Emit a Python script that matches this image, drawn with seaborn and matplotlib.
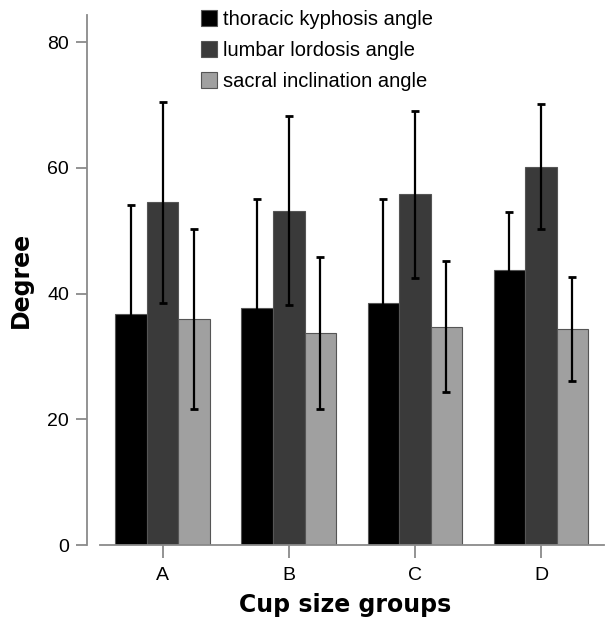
"""
Angulos da coluna por grupo de tamanho de taça (media e desvio padrao).
"""
import pandas as pd
import seaborn as sns
import matplotlib
matplotlib.use("Agg")
import matplotlib.pyplot as plt

grupos = ["A", "B", "C", "D"]
medidas = ["thoracic kyphosis angle", "lumbar lordosis angle", "sacral inclination angle"]
media_toracica = [36.8, 37.7, 38.5, 43.8]
dp_toracica = [17.3, 17.3, 16.6, 9.2]
media_lombar = [54.5, 53.2, 55.8, 60.2]
dp_lombar = [16.0, 15.0, 13.3, 10.0]
media_sacral = [36.0, 33.7, 34.7, 34.4]
dp_sacral = [14.3, 12.1, 10.4, 8.3]
cores = ["#000000", "#3a3a3a", "#a0a0a0"]

medias = [media_toracica, media_lombar, media_sacral]
dps = [dp_toracica, dp_lombar, dp_sacral]
linhas = []
for nome, vals in zip(medidas, medias):
    for g, v in zip(grupos, vals):
        linhas.append({"grupo": g, "medida": nome, "valor": v})
tabela = pd.DataFrame(linhas)

sns.set_style("white")
plt.rcParams["font.family"] = ["Liberation Sans", "DejaVu Sans"]
for chave in ["text.color", "axes.labelcolor", "xtick.labelcolor", "ytick.labelcolor"]:
    plt.rcParams[chave] = "black"

fig = plt.figure(figsize=(6.06, 6.24), dpi=100)
ax = fig.add_axes([87 / 606, 79 / 624, 517 / 606, 530 / 624])

sns.barplot(data=tabela, x="grupo", y="valor", hue="medida", palette=cores,
            width=0.75, errorbar=None, edgecolor="#555555", linewidth=0.8, ax=ax)

# barras de erro (desvio padrao) sobre cada barra
for cont, dp in zip(ax.containers, dps):
    xs = [b.get_x() + b.get_width() / 2 for b in cont]
    ys = [b.get_height() for b in cont]
    ax.errorbar(xs, ys, yerr=dp, fmt="none", ecolor="black", elinewidth=1.6,
                capsize=3, capthick=2, zorder=5)

ax.set_ylim(0, 84.3)
ax.set_xlim(-0.6, 3.5)
ax.set_yticks([0, 20, 40, 60, 80])

for lado in ["top", "right"]:
    ax.spines[lado].set_visible(False)
ax.spines["left"].set_color("#8a8a8a")
ax.spines["bottom"].set_color("#8a8a8a")
ax.spines["left"].set_linewidth(1.3)
ax.spines["bottom"].set_linewidth(1.3)
ax.spines["bottom"].set_bounds(-0.5, 3.5)

ax.tick_params(axis="y", direction="out", length=8, width=1.3, color="#8a8a8a",
               labelsize=14, left=True, pad=5)
ax.tick_params(axis="x", direction="out", length=9, width=1.3, color="#8a8a8a",
               labelsize=14, bottom=True, pad=7)

ax.set_xlabel("Cup size groups", fontsize=17, fontweight="bold", labelpad=6,
              family=["DejaVu Sans"])
ax.set_ylabel("Degree", fontsize=17, fontweight="bold", labelpad=10,
              family=["DejaVu Sans"])

ax.legend(loc="upper left", bbox_to_anchor=(201 / 606, 1 - 10 / 624),
          bbox_transform=fig.transFigure, frameon=False, borderpad=0,
          borderaxespad=0, fontsize=14.5, handlelength=0.8, handleheight=0.85,
          labelspacing=0.6, handletextpad=0.3)

plt.savefig("out.png", dpi=100)
